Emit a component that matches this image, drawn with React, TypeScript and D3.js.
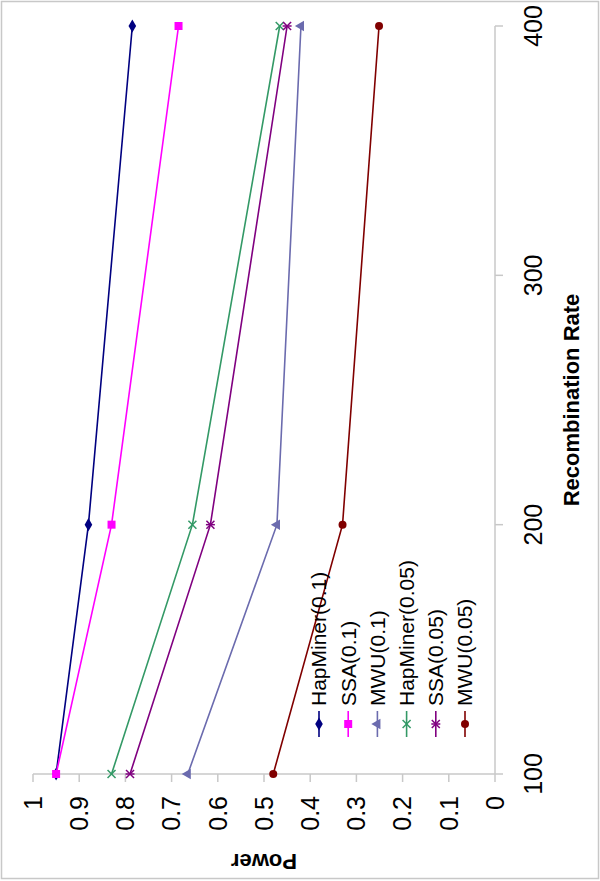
import React from "react";
import * as d3 from "d3";

const recRates = [100, 200, 400];
const recTicks = [100, 200, 300, 400];
const powerTicks = [0, 0.1, 0.2, 0.3, 0.4, 0.5, 0.6, 0.7, 0.8, 0.9, 1];
const powerTickLabels = ["0", "0.1", "0.2", "0.3", "0.4", "0.5", "0.6", "0.7", "0.8", "0.9", "1"];

const seriesNames = ["HapMiner(0.1)", "SSA(0.1)", "MWU(0.1)", "HapMiner(0.05)", "SSA(0.05)", "MWU(0.05)"];
const hapMiner01 = [0.95, 0.88, 0.785];
const ssa01 = [0.95, 0.83, 0.685];
const mwu01 = [0.665, 0.472, 0.42];
const hapMiner005 = [0.83, 0.655, 0.466];
const ssa005 = [0.79, 0.616, 0.45];
const mwu005 = [0.48, 0.33, 0.251];

const seriesValues = [hapMiner01, ssa01, mwu01, hapMiner005, ssa005, mwu005];
const seriesColors = ["#000080", "#FF00FF", "#6B6BAE", "#339966", "#800080", "#800000"];
const seriesMarkers = ["diamond", "square", "triangle", "x", "star", "circle"];

const W = 600;
const H = 881;
const font = "'Liberation Sans', Arial, sans-serif";

// Rotated chart: recombination rate runs vertically, power runs horizontally
const recScale = d3.scaleLinear().domain([100, 400]).range([774, 26]);
const powScale = d3.scaleLinear().domain([0, 1]).range([495, 33]);

function Marker({ type, x, y, color }: { type: string; x: number; y: number; color: string }) {
  if (type === "diamond") {
    const p = d3.symbol().type(d3.symbolDiamond).size(50)();
    return <path d={p!} transform={`translate(${x},${y})`} fill={color} />;
  }
  if (type === "square") {
    return <rect x={x - 4} y={y - 4} width={8} height={8} fill={color} />;
  }
  if (type === "triangle") {
    const p = d3.symbol().type(d3.symbolTriangle).size(48)();
    return <path d={p!} transform={`translate(${x},${y}) rotate(-90)`} fill={color} />;
  }
  if (type === "x") {
    return (
      <g stroke={color} strokeWidth={1.5}>
        <line x1={x - 4} y1={y - 4} x2={x + 4} y2={y + 4} />
        <line x1={x - 4} y1={y + 4} x2={x + 4} y2={y - 4} />
      </g>
    );
  }
  if (type === "star") {
    return (
      <g stroke={color} strokeWidth={1.5}>
        <line x1={x - 4} y1={y - 4} x2={x + 4} y2={y + 4} />
        <line x1={x - 4} y1={y + 4} x2={x + 4} y2={y - 4} />
        <line x1={x - 4.5} y1={y} x2={x + 4.5} y2={y} />
      </g>
    );
  }
  return <circle cx={x} cy={y} r={4} fill={color} />;
}

export default function App() {
  const line = d3
    .line<[number, number]>()
    .x((d) => powScale(d[1]))
    .y((d) => recScale(d[0]));

  const axisColor = "#c8c8c8";
  const legendXs = seriesNames.map((_, i) => 319 + i * 29.2);

  return (
    <>
      <style>{`body{margin:0}`}</style>
      <svg width={W} height={H} style={{ display: "block", background: "#fff" }}>
        <rect x={1.5} y={1.5} width={W - 3} height={H - 4} fill="#fff" stroke={axisColor} strokeWidth={1.5} />

        {/* Power axis (horizontal) */}
        <line x1={powScale(1)} x2={powScale(0)} y1={recScale(100)} y2={recScale(100)} stroke={axisColor} strokeWidth={1.5} />
        {powerTicks.map((t, i) => (
          <g key={"pt" + i}>
            <line x1={powScale(t)} x2={powScale(t)} y1={recScale(100)} y2={recScale(100) + 8} stroke={axisColor} strokeWidth={1.5} />
            <text
              transform={`translate(${powScale(t)},796) rotate(-90)`}
              dy="0.35em"
              textAnchor="end"
              fontFamily={font}
              fontSize={25}
              fill="#000"
            >
              {powerTickLabels[i]}
            </text>
          </g>
        ))}

        {/* Recombination axis (vertical) */}
        <line x1={powScale(0)} x2={powScale(0)} y1={recScale(400)} y2={recScale(100)} stroke={axisColor} strokeWidth={1.5} />
        {recTicks.map((t) => (
          <g key={"rt" + t}>
            <line x1={powScale(0)} x2={powScale(0) + 8} y1={recScale(t)} y2={recScale(t)} stroke={axisColor} strokeWidth={1.5} />
            <text
              transform={`translate(533,${recScale(t)}) rotate(-90)`}
              dy="0.35em"
              textAnchor="middle"
              fontFamily={font}
              fontSize={25}
              fill="#000"
            >
              {t}
            </text>
          </g>
        ))}

        <text
          transform={`translate(571,400) rotate(-90)`}
          dy="0.35em"
          textAnchor="middle"
          fontFamily={font}
          fontSize={22}
          fontWeight="bold"
          fill="#000"
        >
          Recombination Rate
        </text>
        <text
          transform={`translate(264,862) rotate(180)`}
          dy="0.35em"
          textAnchor="middle"
          fontFamily={font}
          fontSize={22}
          fontWeight="bold"
          fill="#000"
        >
          Power
        </text>

        {/* Series */}
        {seriesValues.map((vals, si) => {
          const pts = recRates.map((r, i) => [r, vals[i]] as [number, number]);
          return (
            <g key={"s" + si}>
              <path d={line(pts)!} fill="none" stroke={seriesColors[si]} strokeWidth={1.6} />
              {pts.map((p, i) => (
                <Marker key={i} type={seriesMarkers[si]} x={powScale(p[1])} y={recScale(p[0])} color={seriesColors[si]} />
              ))}
            </g>
          );
        })}

        {/* Legend */}
        {seriesNames.map((name, i) => (
          <g key={"l" + i}>
            <line x1={legendXs[i]} x2={legendXs[i]} y1={711} y2={737} stroke={seriesColors[i]} strokeWidth={1.6} />
            <Marker type={seriesMarkers[i]} x={legendXs[i]} y={724} color={seriesColors[i]} />
            <text
              transform={`translate(${legendXs[i]},706) rotate(-90)`}
              dy="0.35em"
              textAnchor="start"
              fontFamily={font}
              fontSize={21}
              fill="#000"
            >
              {name}
            </text>
          </g>
        ))}
      </svg>
    </>
  );
}
